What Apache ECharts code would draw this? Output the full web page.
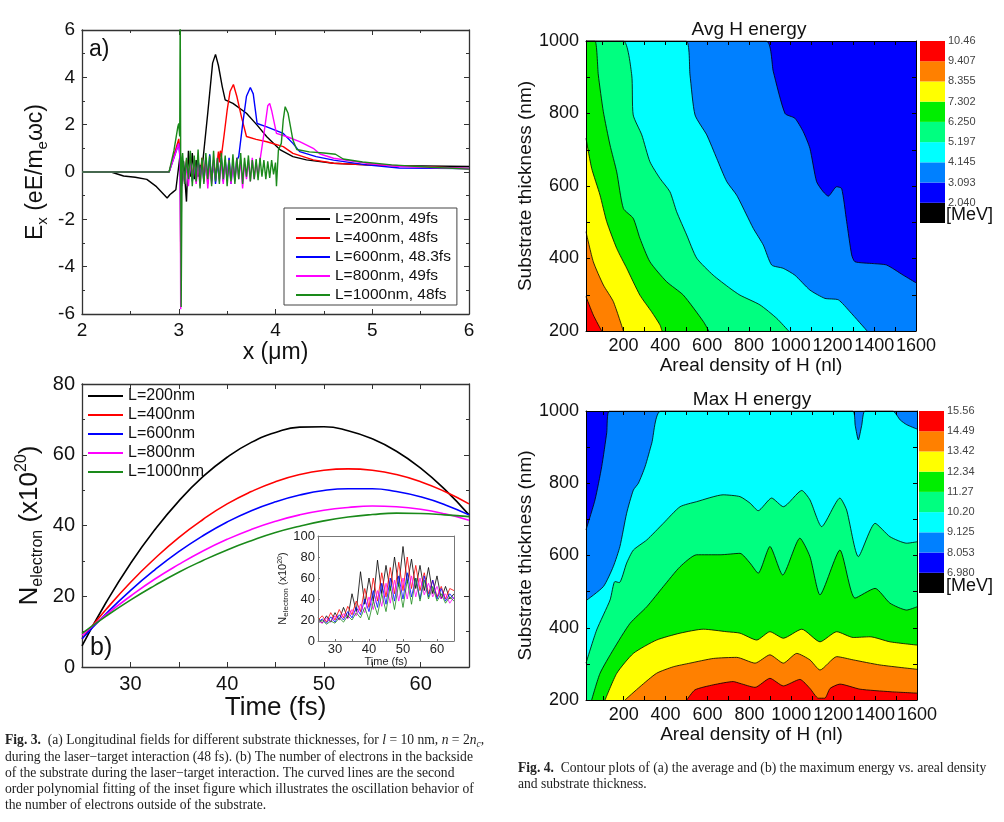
<!DOCTYPE html>
<html><head><meta charset="utf-8">
<script src="https://cdn.jsdelivr.net/npm/echarts@6/dist/echarts.min.js"></script>
<style>html,body{margin:0;padding:0;background:#fff}#c{width:1004px;height:822px}</style>
</head><body><div id="c"></div><script>
// ---------- Panel (a): Ex vs x ----------
const namesA = ['L=200nm, 49fs','L=400nm, 48fs','L=600nm, 48.3fs','L=800nm, 49fs','L=1000nm, 48fs'];
const colorsA = ['#000000','#ff0000','#0000ff','#ff00ff','#1a8a1a'];
const ex200 = [[2,0],[2.3,0],[2.43,-0.17],[2.55,-0.22],[2.67,-0.31],[2.77,-0.62],[2.88,-1.1],[2.91,-0.95],[2.94,-0.85],[2.97,-0.75],[2.99,-0.8],[3.01,0.6],[3.03,-0.6],[3.05,0.45],[3.08,-1.25],[3.1,0.9],[3.12,-0.2],[3.14,0.8],[3.16,-0.3],[3.18,0.5],[3.2,-0.2],[3.22,0.3],[3.24,0.1],[3.3,2.5],[3.35,4.6],[3.38,4.97],[3.41,4.5],[3.45,3.6],[3.48,3.05],[3.56,2.9],[3.7,2.48],[3.81,1.98],[3.91,1.49],[4.05,0.93],[4.18,0.65],[4.32,0.51],[4.6,0.37],[4.94,0.3],[5.28,0.27],[6,0.23]];
const ex400 = [[2,0],[2.9,0],[2.95,0.7],[3.0,1.4],[3.015,0.8],[3.02,-3.6],[3.03,0.4],[3.04,0.3],[3.06,-0.4],[3.08,0.5],[3.10,-0.3],[3.12,0.6],[3.14,-0.2],[3.16,0.4],[3.18,-0.4],[3.20,0.5],[3.22,-0.3],[3.24,0.6],[3.26,-0.2],[3.28,0.4],[3.30,-0.5],[3.32,0.5],[3.34,-0.3],[3.36,0.4],[3.38,-0.2],[3.40,0.5],[3.41,0.86],[3.42,0.4],[3.43,0.9],[3.44,0.65],[3.47,1.6],[3.50,2.6],[3.53,3.4],[3.565,3.7],[3.6,3.2],[3.65,2.3],[3.70,1.5],[3.8,1.38],[3.91,1.28],[4.08,1.07],[4.18,0.79],[4.39,0.51],[4.6,0.37],[4.94,0.3],[5.5,0.22],[6,0.15]];
const ex600 = [[2,0],[2.9,0],[2.95,0.6],[3.0,1.2],[3.015,0.5],[3.02,-3.1],[3.03,0.2],[3.04,0.5],[3.06,-0.4],[3.08,0.4],[3.10,-0.3],[3.12,0.5],[3.14,-0.4],[3.16,0.3],[3.18,-0.3],[3.20,0.5],[3.22,-0.2],[3.24,0.4],[3.26,-0.4],[3.28,0.6],[3.30,-0.3],[3.32,0.75],[3.34,-0.4],[3.36,0.5],[3.38,-0.5],[3.40,0.4],[3.42,-0.3],[3.44,0.6],[3.46,-0.4],[3.48,0.5],[3.50,-0.3],[3.52,0.6],[3.54,-0.5],[3.56,0.4],[3.58,-0.3],[3.60,0.5],[3.62,0.65],[3.66,2.0],[3.70,3.2],[3.74,3.57],[3.77,3.3],[3.81,2.05],[3.91,1.91],[4.08,1.63],[4.18,1.21],[4.25,0.86],[4.42,0.65],[4.6,0.5],[4.94,0.3],[5.28,0.17],[6,0.15]];
const ex800 = [[2,0],[2.9,0],[2.95,0.6],[3.0,1.2],[3.015,0.6],[3.02,-5.8],[3.03,0.3],[3.04,0.4],[3.06,-0.5],[3.08,0.3],[3.10,-0.6],[3.12,0.4],[3.14,-0.3],[3.16,0.5],[3.18,-0.5],[3.20,0.3],[3.22,-0.6],[3.24,0.5],[3.26,-0.4],[3.28,0.6],[3.30,-0.7],[3.32,0.4],[3.34,-0.5],[3.36,0.5],[3.38,-0.3],[3.40,0.6],[3.42,-0.4],[3.44,0.5],[3.46,-0.5],[3.48,0.4],[3.50,-0.3],[3.52,0.5],[3.54,-0.5],[3.56,0.3],[3.58,-0.4],[3.60,0.6],[3.62,-0.3],[3.64,0.5],[3.66,-0.7],[3.68,0.4],[3.70,-0.3],[3.72,0.5],[3.74,-0.4],[3.76,0.6],[3.78,-0.3],[3.80,0.4],[3.82,-0.2],[3.84,0.5],[3.88,1.6],[3.92,2.8],[3.94,2.9],[3.96,2.6],[4.01,1.63],[4.12,1.49],[4.25,1.28],[4.39,1.0],[4.46,0.76],[4.6,0.58],[4.94,0.37],[5.28,0.23],[6,0.14]];
const ex1000 = [[2,0],[2.9,0],[2.95,0.9],[2.99,1.9],[3.0,2.05],[3.01,1.5],[3.015,7],[3.025,-5.7],[3.035,0.6],[3.04,0.8],[3.06,-0.5],[3.08,0.6],[3.10,-0.3],[3.12,0.9],[3.14,-0.6],[3.16,0.7],[3.18,-0.4],[3.20,0.95],[3.22,-0.7],[3.24,0.6],[3.26,-0.5],[3.28,0.8],[3.30,-0.3],[3.32,0.7],[3.34,-0.6],[3.36,0.9],[3.38,-0.4],[3.40,0.6],[3.42,-0.5],[3.44,0.8],[3.46,-0.3],[3.48,0.7],[3.50,-0.6],[3.52,0.5],[3.54,-0.4],[3.56,0.75],[3.58,-0.5],[3.60,0.6],[3.62,-0.3],[3.64,0.8],[3.66,-0.5],[3.68,0.6],[3.70,-0.2],[3.72,0.7],[3.74,-0.4],[3.76,0.5],[3.78,-0.3],[3.80,0.55],[3.82,-0.35],[3.84,0.6],[3.86,-0.2],[3.88,0.5],[3.90,-0.3],[3.92,0.45],[3.94,-0.25],[3.96,0.5],[3.98,-0.1],[4.00,0.4],[4.01,-0.6],[4.03,0.93],[4.06,1.21],[4.08,2.2],[4.1,2.76],[4.11,2.8],[4.13,2.48],[4.18,1.35],[4.22,0.95],[4.35,0.85],[4.5,0.8],[4.62,0.75],[4.7,0.55],[4.9,0.42],[5.2,0.3],[5.6,0.2],[6,0.12]];
const seriesA = [ex200, ex400, ex600, ex800, ex1000];

// ---------- Panel (b): N_electron vs time (fitted) ----------
const namesB = ['L=200nm','L=400nm','L=600nm','L=800nm','L=1000nm'];
const timeB = [25,27.5,30,32.5,35,37.5,40,42.5,45,47.5,50,52.5,55,57.5,60,62.5,65];
const nB200 = [6,18.3,29.2,38.7,46.9,53.8,59.3,63.5,66.3,67.8,67.9,66.8,64.5,61,56.2,50.2,43];
const nB400 = [8,16.3,23.9,30.6,36.6,41.7,46.1,49.6,52.4,54.4,55.6,56,55.6,54.4,52.4,49.6,46.1];
const nB600 = [8,15.1,21.6,27.4,32.6,37.1,41,44.2,46.7,48.6,49.9,50.4,50.4,49.6,48.1,45.9,43];
const nB800 = [9,14.8,20,24.8,29,32.8,36.1,38.9,41.2,43,44.3,45.1,45.5,45.3,44.6,43.3,41.5];
const nB1000 = [9.5,14.4,18.9,23,26.8,30.1,33.1,35.7,38,39.8,41.3,42.4,43.1,43.5,43.4,43,42.5];
const seriesB = [nB200, nB400, nB600, nB800, nB1000];

// ---------- Inset: raw oscillating N_electron ----------
const insetTime = [25,26.25,27.5,28.75,30,31.25,32.5,33.75,35,36.25,37.5,38.75,40,41.25,42.5,43.75,45,46.25,47.5,48.75,50,51.25,52.5,53.75,55,56.25,57.5,58.75,60,61.25,62.5,63.75,65];
const in200 = [22,17,24,18,27,20,32,22,45,28,66,35,60,38,77,45,72,48,80,52,90,55,78,50,72,48,70,45,62,40,52,40,45];
const in400 = [20,24,18,27,20,30,22,33,25,38,28,50,32,60,38,65,42,70,45,75,48,80,50,72,48,65,45,58,42,52,40,50,48];
const in600 = [18,21,17,23,18,25,20,28,22,32,25,40,28,48,32,55,35,60,38,62,40,65,42,60,40,62,42,58,40,50,38,45,40];
const in800 = [19,17,22,18,24,20,26,21,30,24,35,27,42,30,48,33,55,36,58,38,60,40,62,42,60,44,55,42,52,40,45,36,42];
const in1000 = [17,20,16,19,17,22,18,24,20,27,22,32,20,38,25,45,28,52,30,55,32,58,35,60,38,58,40,52,38,45,36,42,38];
const seriesInset = [in200, in400, in600, in800, in1000];

// ---------- Contour levels ----------
const levelColors = ['#000000','#0000ff','#0080ff','#00ffff','#00ff80','#00ee00','#ffff00','#ff8000','#ff0000'];
const avgCbarLabels = ['10.46','9.407','8.355','7.302','6.250','5.197','4.145','3.093','2.040'];
const maxCbarLabels = ['15.56','14.49','13.42','12.34','11.27','10.20','9.125','8.053','6.980'];
const densTicks = [100,200,300,400,500,600,700,800,900,1000,1100,1200,1300,1400,1500,1600];
const densLabels = [200,400,600,800,1000,1200,1400,1600];

// Avg H energy contour boundaries (region below each boundary exceeds the level)
const avgB2040 = [[20,1000],[1600,1000]];
const avgB3093 = [[20,1000],[882,1000],[917,915],[973,800],[1020,787],[1060,750],[1092,704],[1124,612],[1156,584],[1180,572],[1220,598],[1244,593],[1268,502],[1292,410],[1308,391],[1395,386],[1459,382],[1539,354],[1600,333]];
const avgB4145 = [[20,1000],[499,1000],[518,906],[542,796],[598,741],[646,676],[694,612],[741,575],[789,520],[821,483],[869,437],[909,382],[964,373],[1020,354],[1092,313],[1164,290],[1228,286],[1284,253],[1366,200]];
const avgB5197 = [[20,1000],[199,1000],[239,906],[246,796],[287,741],[326,667],[374,621],[422,584],[454,529],[502,465],[550,401],[629,354],[709,318],[757,299],[853,272],[933,235],[990,200]];
const avgB6250 = [[20,1000],[63,1000],[79,906],[103,805],[135,713],[167,639],[199,538],[246,511],[278,456],[326,391],[406,336],[486,299],[582,226],[608,200]];
const avgB7302 = [[20,732],[47,649],[87,575],[119,502],[167,428],[215,373],[278,299],[334,253],[374,217],[384,200]];
const avgB8355 = [[20,474],[55,391],[103,327],[151,281],[199,200]];
const avgB9407 = [[20,295],[55,244],[95,200]];
const avgBounds = [avgB2040, avgB3093, avgB4145, avgB5197, avgB6250, avgB7302, avgB8355, avgB9407];

// Max H energy contour boundaries
const maxB6980 = [[20,1000],[1600,1000]];
const maxB8053 = [[20,671],[63,754],[95,846],[119,940],[131,1000],[1600,1000]];
const maxB9125 = [[20,475],[103,514],[150,569],[182,625],[214,717],[246,781],[270,800],[302,846],[334,911],[378,1000],[1293,1000],[1305,960],[1320,920],[1336,960],[1352,1000],[1484,1000],[1520,975],[1551,962],[1600,950]];
const maxB1020 = [[20,302],[71,394],[135,477],[158,528],[179,525],[214,579],[246,615],[310,643],[389,689],[469,735],[548,749],[675,768],[755,763],[803,745],[842,724],[906,759],[962,735],[1050,780],[1089,754],[1145,680],[1232,759],[1264,726],[1320,597],[1400,689],[1471,652],[1551,634],[1600,638]];
const maxB1127 = [[47,200],[87,274],[150,339],[230,412],[310,458],[389,514],[469,569],[548,602],[660,602],[755,606],[803,579],[842,551],[898,625],[959,546],[1041,648],[1089,597],[1137,491],[1232,615],[1304,482],[1400,509],[1471,468],[1551,449],[1600,458]];
const maxB1234 = [[111,200],[167,274],[246,329],[357,366],[469,385],[580,396],[692,389],[755,385],[835,366],[898,389],[962,371],[1050,396],[1137,361],[1217,389],[1296,373],[1376,375],[1471,361],[1600,352]];
const maxB1342 = [[206,200],[278,237],[357,274],[437,292],[516,302],[628,315],[739,318],[827,302],[898,325],[962,302],[1026,329],[1089,311],[1137,283],[1217,320],[1296,311],[1423,297],[1600,285]];
const maxB1449 = [[501,200],[540,228],[628,242],[723,251],[755,246],[827,235],[898,260],[962,239],[1041,257],[1089,232],[1129,205],[1160,205],[1185,232],[1232,244],[1328,230],[1471,223],[1600,219]];
const maxBounds = [maxB6980, maxB8053, maxB9125, maxB1020, maxB1127, maxB1234, maxB1342, maxB1449];

// ---------- build ----------
const F = 'Liberation Sans, Arial, sans-serif';
const SERIF = 'Liberation Serif, Times New Roman, serif';
const pair = (xs, ys) => xs.map((x, i) => [x, ys[i]]);
const ax = '#333';

function vAxis(extra) {
  return Object.assign({
    type: 'value', splitLine: {show: false},
    axisLine: {show: true, onZero: false, lineStyle: {color: ax, width: 1.3}},
    axisTick: {show: true, inside: true, length: 5, lineStyle: {color: ax, width: 1}},
    axisLabel: {color: '#111', fontFamily: F, fontSize: 18}
  }, extra);
}
function mirror(extra) {
  const o = vAxis(extra);
  o.axisLabel = {show: false};
  o.name = '';
  return o;
}
const densLabel = {color: '#111', fontFamily: F, fontSize: 18, margin: 6, customValues: densLabels,
  showMaxLabel: true, showMinLabel: true, hideOverlap: false, formatter: v => String(v)};

const xAxes = [
  vAxis({gridIndex: 0, min: 2, max: 6, interval: 1, minorTick: {show: true, splitNumber: 2, length: 3, lineStyle: {color: ax}},
    axisLabel: {color: '#111', fontFamily: F, fontSize: 19, margin: 7},
    name: 'x (μm)', nameLocation: 'middle', nameGap: 21, nameTextStyle: {fontFamily: F, fontSize: 23, color: '#111'}}),
  mirror({gridIndex: 0, min: 2, max: 6, interval: 1, position: 'top', minorTick: {show: true, splitNumber: 2, length: 3, lineStyle: {color: ax}}}),
  vAxis({gridIndex: 1, min: 25, max: 65, interval: 5,
    axisLabel: {color: '#111', fontFamily: F, fontSize: 20, margin: 7, formatter: v => (v % 10 === 0 ? String(v) : '')},
    name: 'Time (fs)', nameLocation: 'middle', nameGap: 19, nameTextStyle: {fontFamily: F, fontSize: 26, color: '#111'}}),
  mirror({gridIndex: 1, min: 25, max: 65, interval: 5, position: 'top'}),
  vAxis({gridIndex: 2, min: 25, max: 65, interval: 5, z: 6, axisLine: {show: true, lineStyle: {color: '#777', width: 1}},
    axisTick: {show: true, inside: true, length: 2, lineStyle: {color: '#777'}},
    axisLabel: {color: '#222', fontFamily: F, fontSize: 13, margin: 2, formatter: v => (v % 10 === 0 ? String(v) : '')},
    name: 'Time (fs)', nameLocation: 'middle', nameGap: 13, nameTextStyle: {fontFamily: F, fontSize: 11, color: '#222'}}),
  {type: 'value', gridIndex: 2, min: 25, max: 65, position: 'top', z: 6, axisLine: {show: true, onZero: false, lineStyle: {color: '#777', width: 1}}, axisTick: {show: false}, axisLabel: {show: false}, splitLine: {show: false}},
  vAxis({gridIndex: 3, min: 20, max: 1600, z: 10, axisLine: {show: true, lineStyle: {color: '#000', width: 1}},
    axisTick: {show: true, inside: true, length: 4, customValues: densTicks, lineStyle: {color: '#000'}},
    axisLabel: densLabel,
    name: 'Areal density of H (nl)', nameLocation: 'middle', nameGap: 25, nameTextStyle: {fontFamily: F, fontSize: 19, color: '#111'}}),
  {type: 'value', gridIndex: 3, min: 20, max: 1600, position: 'top', z: 10, axisLine: {show: true, lineStyle: {color: '#000', width: 1}}, axisTick: {show: true, inside: true, length: 4, customValues: densTicks, lineStyle: {color: '#000'}}, axisLabel: {show: false}, splitLine: {show: false}},
  {type: 'value', gridIndex: 4, min: 0, max: 1, show: false},
  vAxis({gridIndex: 5, min: 20, max: 1600, z: 10, axisLine: {show: true, lineStyle: {color: '#000', width: 1}},
    axisTick: {show: true, inside: true, length: 4, customValues: densTicks, lineStyle: {color: '#000'}},
    axisLabel: densLabel,
    name: 'Areal density of H (nl)', nameLocation: 'middle', nameGap: 24, nameTextStyle: {fontFamily: F, fontSize: 19, color: '#111'}}),
  {type: 'value', gridIndex: 5, min: 20, max: 1600, position: 'top', z: 10, axisLine: {show: true, lineStyle: {color: '#000', width: 1}}, axisTick: {show: true, inside: true, length: 4, customValues: densTicks, lineStyle: {color: '#000'}}, axisLabel: {show: false}, splitLine: {show: false}},
  {type: 'value', gridIndex: 6, min: 0, max: 1, show: false}
];

const richA = {
  m: {fontFamily: F, fontSize: 23, color: '#111', lineHeight: 28},
  s: {fontFamily: F, fontSize: 15, color: '#111', lineHeight: 28, verticalAlign: 'bottom'},
  p: {fontFamily: F, fontSize: 15, color: '#111', lineHeight: 14, verticalAlign: 'top'}
};
const richB = {
  m: {fontFamily: F, fontSize: 26, color: '#111', lineHeight: 32},
  s: {fontFamily: F, fontSize: 16, color: '#111', lineHeight: 32, verticalAlign: 'bottom'},
  p: {fontFamily: F, fontSize: 16, color: '#111', lineHeight: 16, verticalAlign: 'top'}
};
const richI = {
  m: {fontFamily: F, fontSize: 11, color: '#222', lineHeight: 13},
  s: {fontFamily: F, fontSize: 8, color: '#222', lineHeight: 13, verticalAlign: 'bottom'},
  p: {fontFamily: F, fontSize: 7, color: '#222', lineHeight: 7, verticalAlign: 'top'}
};

function cbarAxis(gi, labels) {
  return {type: 'value', gridIndex: gi, min: 0, max: 9, interval: 1, position: 'right',
    axisLine: {show: false}, axisTick: {show: false}, splitLine: {show: false},
    axisLabel: {color: '#444', fontFamily: F, fontSize: 11, margin: 3, formatter: v => (v >= 1 ? labels[9 - v] : '')}};
}

const yAxes = [
  vAxis({gridIndex: 0, min: -6, max: 6, interval: 2, minorTick: {show: true, splitNumber: 2, length: 3, lineStyle: {color: ax}},
    axisLabel: {color: '#111', fontFamily: F, fontSize: 19, margin: 7},
    name: '{m|E}{s|x}{m| (eE/m}{s|e}{m|ωc)}', nameLocation: 'middle', nameRotate: 90, nameGap: 32, nameTextStyle: {rich: richA}}),
  mirror({gridIndex: 0, min: -6, max: 6, interval: 2, position: 'right', minorTick: {show: true, splitNumber: 2, length: 3, lineStyle: {color: ax}}}),
  vAxis({gridIndex: 1, min: 0, max: 80, interval: 20, minorTick: {show: true, splitNumber: 2, length: 3, lineStyle: {color: ax}},
    axisLabel: {color: '#111', fontFamily: F, fontSize: 20, margin: 7},
    name: '{m|N}{s|electron}{m| (x10}{p|20}{m|)}', nameLocation: 'middle', nameRotate: 90, nameGap: 36, nameTextStyle: {rich: richB}}),
  mirror({gridIndex: 1, min: 0, max: 80, interval: 20, position: 'right', minorTick: {show: true, splitNumber: 2, length: 3, lineStyle: {color: ax}}}),
  vAxis({gridIndex: 2, min: 0, max: 100, interval: 20, z: 6, axisLine: {show: true, lineStyle: {color: '#777', width: 1}},
    axisTick: {show: true, inside: true, length: 2, lineStyle: {color: '#777'}},
    axisLabel: {color: '#222', fontFamily: F, fontSize: 13, margin: 3},
    name: '{m|N}{s|electron}{m| (x10}{p|20}{m|)}', nameLocation: 'middle', nameRotate: 90, nameGap: 23, nameTextStyle: {rich: richI}}),
  {type: 'value', gridIndex: 2, min: 0, max: 100, position: 'right', z: 6, axisLine: {show: true, onZero: false, lineStyle: {color: '#777', width: 1}}, axisTick: {show: false}, axisLabel: {show: false}, splitLine: {show: false}},
  vAxis({gridIndex: 3, min: 200, max: 1000, interval: 100, z: 10, axisLine: {show: true, lineStyle: {color: '#000', width: 1}},
    axisTick: {show: true, inside: true, length: 4, lineStyle: {color: '#000'}},
    axisLabel: {color: '#111', fontFamily: F, fontSize: 18, margin: 7, formatter: v => (v % 200 === 0 ? String(v) : '')},
    name: 'Substrate thickness (nm)', nameLocation: 'middle', nameRotate: 90, nameGap: 42, nameTextStyle: {fontFamily: F, fontSize: 19, color: '#111'}}),
  {type: 'value', gridIndex: 3, min: 200, max: 1000, interval: 100, position: 'right', z: 10, axisLine: {show: true, lineStyle: {color: '#000', width: 1}}, axisTick: {show: true, inside: true, length: 4, lineStyle: {color: '#000'}}, axisLabel: {show: false}, splitLine: {show: false}},
  cbarAxis(4, avgCbarLabels),
  vAxis({gridIndex: 5, min: 200, max: 1000, interval: 100, z: 10, axisLine: {show: true, lineStyle: {color: '#000', width: 1}},
    axisTick: {show: true, inside: true, length: 4, lineStyle: {color: '#000'}},
    axisLabel: {color: '#111', fontFamily: F, fontSize: 18, margin: 7, formatter: v => (v % 200 === 0 ? String(v) : '')},
    name: 'Substrate thickness (nm)', nameLocation: 'middle', nameRotate: 90, nameGap: 42, nameTextStyle: {fontFamily: F, fontSize: 19, color: '#111'}}),
  {type: 'value', gridIndex: 5, min: 200, max: 1000, interval: 100, position: 'right', z: 10, axisLine: {show: true, lineStyle: {color: '#000', width: 1}}, axisTick: {show: true, inside: true, length: 4, lineStyle: {color: '#000'}}, axisLabel: {show: false}, splitLine: {show: false}},
  cbarAxis(6, maxCbarLabels)
];

const series = [];
seriesA.forEach((d, i) => series.push({name: namesA[i], type: 'line', xAxisIndex: 0, yAxisIndex: 0, data: d, showSymbol: false, symbol: 'none',
  color: colorsA[i], lineStyle: {color: colorsA[i], width: 1.4}, clip: true, silent: true}));
seriesB.forEach((d, i) => series.push({name: namesB[i], type: 'line', xAxisIndex: 2, yAxisIndex: 2, data: pair(timeB, d), showSymbol: false, symbol: 'none',
  smooth: true, color: colorsA[i], lineStyle: {color: colorsA[i], width: 1.6}, clip: true, silent: true}));
seriesInset.forEach((d, i) => series.push({name: 'inset ' + namesB[i], type: 'line', xAxisIndex: 4, yAxisIndex: 4, data: pair(insetTime, d), showSymbol: false, symbol: 'none',
  color: colorsA[i], lineStyle: {color: colorsA[i], width: 0.8}, clip: true, silent: true}));

function addContours(bounds, xi, yi) {
  bounds.forEach((d, k) => series.push({type: 'line', xAxisIndex: xi, yAxisIndex: yi, data: d, showSymbol: false, symbol: 'none',
    smooth: 0.2, lineStyle: {color: '#000', width: k === 0 ? 0 : 0.8}, areaStyle: {color: levelColors[k + 1], opacity: 1, origin: 'start'},
    clip: true, silent: true}));
}
addContours(avgBounds, 6, 6);
addContours(maxBounds, 9, 9);

function cbarSeries(xi, yi) {
  return {type: 'custom', xAxisIndex: xi, yAxisIndex: yi, silent: true, clip: false,
    data: levelColors.map((c, i) => [0, i]),
    renderItem: (params, api) => {
      const i = api.value(1);
      const p0 = api.coord([0, i]);
      const p1 = api.coord([1, i + 1]);
      return {type: 'rect', shape: {x: p0[0], y: p1[1], width: p1[0] - p0[0], height: p0[1] - p1[1]}, style: {fill: levelColors[i]}};
    }};
}
series.push(cbarSeries(8, 8));
series.push(cbarSeries(11, 11));

const CS = 13.6;
const capRich = {
  b: {fontFamily: SERIF, fontSize: CS, fontWeight: 'bold', color: '#222'},
  i: {fontFamily: SERIF, fontSize: CS, fontStyle: 'italic', color: '#222'},
  s: {fontFamily: SERIF, fontSize: 9.5, fontStyle: 'italic', color: '#222', verticalAlign: 'bottom', lineHeight: 19}
};
function cap(x, y, text) {
  return {type: 'text', x, y, silent: true, style: {text, rich: capRich, fontFamily: SERIF, fontSize: CS, fill: '#222', verticalAlign: 'middle', align: 'left'}};
}
function txt(x, y, text, size, align) {
  return {type: 'text', x, y, silent: true, z: 100, style: {text, fontFamily: F, fontSize: size, fill: '#111', verticalAlign: 'middle', align: align || 'left'}};
}

const option = {
  animation: false,
  backgroundColor: '#fff',
  grid: [
    {left: 82, top: 30, width: 387, height: 284},
    {left: 82, top: 384, width: 387, height: 283},
    {left: 318, top: 536, width: 136, height: 105},
    {left: 586, top: 41, width: 330, height: 290},
    {left: 920, top: 41, width: 25, height: 182},
    {left: 586, top: 411, width: 331, height: 289},
    {left: 919, top: 411, width: 25, height: 182}
  ],
  xAxis: xAxes,
  yAxis: yAxes,
  legend: [
    {data: namesA, orient: 'vertical', left: 284, top: 208, padding: [3, 6, 2, 12], itemGap: 3, itemWidth: 34, itemHeight: 2, icon: 'rect',
      borderColor: '#444', borderWidth: 1, backgroundColor: '#fff', selectedMode: false,
      textStyle: {fontFamily: F, fontSize: 15.5, color: '#111', lineHeight: 16}},
    {data: namesB, orient: 'vertical', left: 88, top: 387, padding: 0, itemGap: 1, itemWidth: 35, itemHeight: 2, icon: 'rect', selectedMode: false,
      textStyle: {fontFamily: F, fontSize: 16, color: '#111', lineHeight: 18}}
  ],
  series,
  graphic: [
    txt(89, 50, 'a)', 23),
    txt(90, 648, 'b)', 25),
    txt(749, 30, 'Avg H energy', 19, 'center'),
    txt(752, 400, 'Max H energy', 19, 'center'),
    txt(946, 215, '[MeV]', 18),
    txt(946, 586, '[MeV]', 18),
    cap(5, 740, '{b|Fig. 3.}  (a) Longitudinal fields for different substrate thicknesses, for {i|l} = 10 nm, {i|n} = 2{i|n}{s|c},'),
    cap(5, 757, 'during the laser−target interaction (48 fs). (b) The number of electrons in the backside'),
    cap(5, 773, 'of the substrate during the laser−target interaction. The curved lines are the second'),
    cap(5, 789, 'order polynomial fitting of the inset figure which illustrates the oscillation behavior of'),
    cap(5, 805, 'the number of electrons outside of the substrate.'),
    cap(518, 768, '{b|Fig. 4.}  Contour plots of (a) the average and (b) the maximum energy vs. areal density'),
    cap(518, 784, 'and substrate thickness.')
  ]
};
const chart = echarts.init(document.getElementById('c'), null, {renderer: 'canvas'});
chart.setOption(option);
</script></body></html>
